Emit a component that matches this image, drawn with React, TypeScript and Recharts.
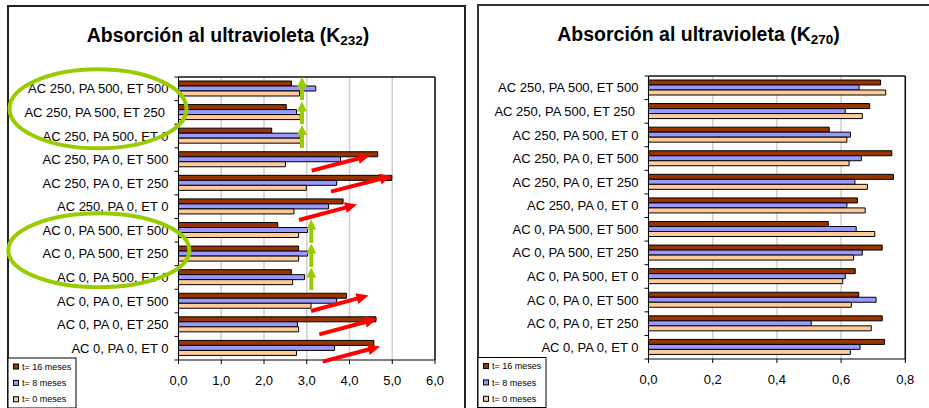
import React from 'react';
import { BarChart, Bar, XAxis, YAxis, CartesianGrid } from 'recharts';

const categories = [
  'AC 250, PA 500, ET 500',
  'AC 250, PA 500, ET 250\u00A0',
  'AC 250, PA 500, ET 0',
  'AC 250, PA 0, ET 500',
  'AC 250, PA 0, ET 250',
  'AC 250, PA 0, ET 0',
  'AC 0, PA 500, ET 500',
  'AC 0, PA 500, ET 250',
  'AC 0, PA 500, ET 0',
  'AC 0, PA 0, ET 500',
  'AC 0, PA 0, ET 250',
  'AC 0, PA 0, ET 0',
];

const k232T16 = [2.64, 2.52, 2.18, 4.66, 4.99, 3.85, 2.32, 2.81, 2.64, 3.93, 4.62, 4.57];
const k232T8 = [3.21, 2.76, 2.85, 3.79, 3.7, 3.51, 3.02, 3.02, 2.95, 3.7, 2.78, 3.65];
const k232T0 = [2.83, 2.85, 2.87, 2.5, 2.99, 2.7, 2.81, 2.81, 2.67, 3.1, 2.81, 2.76];

const k270T16 = [0.723, 0.689, 0.563, 0.758, 0.763, 0.651, 0.56, 0.728, 0.644, 0.655, 0.728, 0.735];
const k270T8 = [0.656, 0.613, 0.629, 0.663, 0.643, 0.618, 0.647, 0.666, 0.613, 0.709, 0.507, 0.659];
const k270T0 = [0.739, 0.666, 0.618, 0.625, 0.682, 0.675, 0.705, 0.639, 0.605, 0.632, 0.694, 0.629];

const k232Ticks = [0, 1, 2, 3, 4, 5, 6];
const k270Ticks = [0, 0.2, 0.4, 0.6, 0.8];

const seriesKeys = ['t16', 't8', 't0'];
const seriesNames = ['t= 16 meses', 't= 8 meses', 't= 0 meses'];
const seriesColors = ['#993300', '#9999FF', '#FFCC99'];

const FONT = '"Liberation Sans", Arial, Helvetica, sans-serif';
const PLOT_H = 283;

function buildRows(a: number[], b: number[], c: number[]) {
  return categories.map((name, i) => ({ name, t16: a[i], t8: b[i], t0: c[i] }));
}

const rows232 = buildRows(k232T16, k232T8, k232T0);
const rows270 = buildRows(k270T16, k270T8, k270T0);

const fmt = (v: number) => v.toFixed(1).replace('.', ',');

function CatTick(props: any) {
  const { x, y, payload, index } = props;
  const half = PLOT_H / categories.length / 2;
  const ax = x + 10;
  const last = index === categories.length - 1;
  return (
    <g>
      <line x1={ax - 4} x2={ax} y1={y - half} y2={y - half} stroke="#000" strokeWidth={1} />
      {last && <line x1={ax - 4} x2={ax} y1={y + half} y2={y + half} stroke="#000" strokeWidth={1} />}
      <text x={x} y={y} dy="0.355em" textAnchor="end" fontSize={13} fontFamily={FONT} fill="#000">
        {payload.value}
      </text>
    </g>
  );
}

function Chart({ rows, ticks, max, width, margin }: any) {
  return (
    <BarChart
      width={width}
      height={408}
      data={rows}
      layout="vertical"
      margin={margin}
      barGap={0}
    >
      <CartesianGrid horizontal={false} stroke="#cfcfcf" strokeWidth={1.5} />
      <CartesianGrid
        stroke="#111"
        strokeWidth={1.5}
        horizontalCoordinatesGenerator={(p: any) => [p.offset.top]}
        verticalCoordinatesGenerator={(p: any) => [p.offset.left + p.offset.width]}
      />
      <XAxis
        type="number"
        domain={[0, max]}
        ticks={ticks}
        interval={0}
        allowDataOverflow
        tickFormatter={fmt}
        tick={{ fontSize: 13, fill: '#000', fontFamily: FONT }}
        tickSize={4}
        tickMargin={12}
        axisLine={{ stroke: '#000' }}
        tickLine={{ stroke: '#000' }}
        height={30}
      />
      <YAxis
        type="category"
        dataKey="name"
        width={178.5}
        interval={0}
        tickLine={false}
        tickSize={4}
        tickMargin={6}
        axisLine={{ stroke: '#000' }}
        tick={<CatTick />}
      />
      {seriesKeys.map((k, i) => (
        <Bar
          key={k}
          dataKey={k}
          fill={seriesColors[i]}
          stroke="#000"
          strokeWidth={1}
          barSize={5}
          isAnimationActive={false}
        />
      ))}
    </BarChart>
  );
}

function arrowPoints(x1: number, y1: number, x2: number, y2: number, shaft: number, headLen: number, headW: number) {
  const dx = x2 - x1;
  const dy = y2 - y1;
  const len = Math.sqrt(dx * dx + dy * dy);
  const ux = dx / len;
  const uy = dy / len;
  const nx = -uy;
  const ny = ux;
  const bx = x2 - ux * headLen;
  const by = y2 - uy * headLen;
  const p = (x: number, y: number) => `${x.toFixed(1)},${y.toFixed(1)}`;
  return [
    p(x1 + (nx * shaft) / 2, y1 + (ny * shaft) / 2),
    p(bx + (nx * shaft) / 2, by + (ny * shaft) / 2),
    p(bx + (nx * headW) / 2, by + (ny * headW) / 2),
    p(x2, y2),
    p(bx - (nx * headW) / 2, by - (ny * headW) / 2),
    p(bx - (nx * shaft) / 2, by - (ny * shaft) / 2),
    p(x1 - (nx * shaft) / 2, y1 - (ny * shaft) / 2),
  ].join(' ');
}

// annotation geometry (page pixels)
const greenArrows = [
  [302, 100, 302, 77],
  [302, 124, 302, 101.5],
  [302, 148, 302, 125],
  [311.3, 243, 311.3, 219.5],
  [311.3, 267, 311.3, 243.5],
  [311.3, 290, 311.3, 267.5],
];
const redArrows = [
  [311.7, 170.7, 370, 155.5],
  [331, 191.7, 391.7, 176],
  [299, 220, 357, 204.5],
  [311, 311, 368.5, 295.5],
  [319.3, 334.3, 377, 319],
  [322.7, 361.7, 380, 346.5],
];
const ellipses = [
  [98, 108.8, 88.5, 39.5],
  [98.8, 250.3, 90.5, 37],
];

function LegendBox({ x, y }: { x: number; y: number }) {
  return (
    <g>
      <rect x={x} y={y} width={68} height={50} fill="#fff" stroke="#000" strokeWidth={1} />
      {seriesNames.map((n, i) => (
        <g key={n}>
          <rect x={x + 5.5} y={y + 6 + i * 16.4} width={5} height={5} fill={seriesColors[i]} stroke="#000" strokeWidth={1} />
          <text x={x + 14} y={y + 8.5 + i * 16.4} dy="0.355em" fontSize={9} fontFamily={FONT} fill="#000">
            {n}
          </text>
        </g>
      ))}
    </g>
  );
}

function Title({ x, y, sub }: { x: number; y: number; sub: string }) {
  return (
    <text x={x} y={y} textAnchor="middle" fontSize={19.5} fontWeight="bold" fontFamily={FONT} fill="#000">
      Absorción al ultravioleta (K
      <tspan fontSize={13.5} dy={3}>{sub}</tspan>
      <tspan dy={-3}>)</tspan>
    </text>
  );
}

export default function App() {
  return (
    <div style={{ position: 'absolute', left: 0, top: 0, width: 929, height: 408, overflow: 'hidden', background: '#fff' }}>
      <div style={{ position: 'absolute', left: 7, top: 5, width: 455, height: 420, border: '2px solid #222' }} />
      <div style={{ position: 'absolute', left: 477, top: 4, width: 470, height: 420, border: '2px solid #333' }} />
      <div style={{ position: 'absolute', left: 0, top: 0 }}>
        <Chart rows={rows232} ticks={k232Ticks} max={6} width={470} margin={{ top: 77, right: 35, bottom: 18, left: 0 }} />
      </div>
      <div style={{ position: 'absolute', left: 470, top: 0 }}>
        <Chart rows={rows270} ticks={k270Ticks} max={0.8} width={459} margin={{ top: 76, right: 23.7, bottom: 19, left: 0 }} />
      </div>
      <svg width={929} height={408} style={{ position: 'absolute', left: 0, top: 0, pointerEvents: 'none' }}>
        <Title x={228} y={42} sub="232" />
        <Title x={698.5} y={40.5} sub="270" />
        <LegendBox x={8} y={358} />
        <LegendBox x={478} y={357.5} />
        {ellipses.map((e, i) => (
          <ellipse key={'e' + i} cx={e[0]} cy={e[1]} rx={e[2]} ry={e[3]} fill="none" stroke="#99CC00" strokeWidth={4} />
        ))}
        {greenArrows.map((a, i) => (
          <polygon key={'g' + i} points={arrowPoints(a[0], a[1], a[2], a[3], 4, 10, 10)} fill="#99CC00" />
        ))}
        {redArrows.map((a, i) => (
          <polygon key={'r' + i} points={arrowPoints(a[0], a[1], a[2], a[3], 4, 12, 11)} fill="#FF0000" />
        ))}
      </svg>
    </div>
  );
}
